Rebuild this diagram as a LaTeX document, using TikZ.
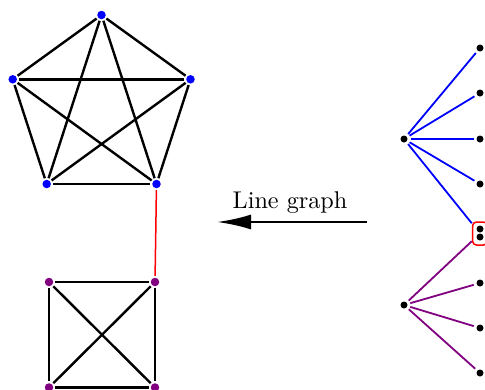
\documentclass[tikz,border=0pt]{standalone}
\usetikzlibrary{arrows.meta}
\definecolor{kblue}{RGB}{0,0,255}
\definecolor{kpurple}{RGB}{128,0,128}
\definecolor{kred}{RGB}{255,0,0}
\begin{document}
\begin{tikzpicture}[x=1pt,y=-1pt,
  bdot/.style={circle,fill=kblue,minimum size=8.5pt,inner sep=0pt,outer sep=1.8pt},
  pdot/.style={circle,fill=kpurple,minimum size=8.5pt,inner sep=0pt,outer sep=1.8pt},
  kdot/.style={circle,fill=black,minimum size=7pt,inner sep=0pt,outer sep=3pt},
  kedge/.style={line width=2.4pt,black},
  bedge/.style={line width=1.8pt,kblue},
  pedge/.style={line width=1.8pt,kpurple},
  redge/.style={line width=1.5pt,kred}]
\useasboundingbox (0,0) rectangle (485,389);
% K5
\node[bdot] (a1) at (101.5,15) {};
\node[bdot] (a2) at (12.7,79.3) {};
\node[bdot] (a3) at (190.5,79.3) {};
\node[bdot] (a4) at (46.7,184) {};
\node[bdot] (a5) at (156.5,184) {};
\foreach \u/\v in {a1/a2,a1/a3,a1/a4,a1/a5,a2/a3,a2/a4,a2/a5,a3/a4,a3/a5,a4/a5}
  \draw[kedge] (\u) -- (\v);
% K4
\node[pdot] (b1) at (49,282) {};
\node[pdot] (b2) at (155,282) {};
\node[pdot] (b3) at (49,387.5) {};
\node[pdot] (b4) at (155,387.5) {};
\foreach \u/\v in {b1/b2,b1/b3,b1/b4,b2/b3,b2/b4,b3/b4}
  \draw[kedge] (\u) -- (\v);
\draw[redge] (a5) -- (b2);
% arrow
\coordinate (as) at (367,222);
\coordinate (ae) at (217,222);
\draw[line width=2.6pt,-{Latex[length=34pt,width=15pt]}] (as) -- (ae)
  node[midway,above=5pt,xshift=-2pt,inner sep=2pt] (lg) {\scalebox{2.42}{Line graph}};
% stars
\node[kdot] (c1) at (404,139) {};
\node[kdot] (l1) at (480,48) {};
\node[kdot] (l2) at (480,93) {};
\node[kdot] (l3) at (480,139) {};
\node[kdot] (l4) at (480,184) {};
\node[kdot] (s1) at (480,229) {};
\node[kdot] (s2) at (480,237) {};
\node[draw=kred,line width=1.5pt,rounded corners=4pt,minimum width=15pt,minimum height=23pt,inner sep=0pt] (bx) at (480,233.5) {};
\node[kdot] (c2) at (404,305) {};
\node[kdot] (m2) at (480,283) {};
\node[kdot] (m3) at (480,328) {};
\node[kdot] (m4) at (480,373) {};
\foreach \v in {l1,l2,l3,l4} \draw[bedge] (c1) -- (\v);
\draw[bedge] (c1) -- (bx);
\draw[pedge] (c2) -- (bx);
\foreach \v in {m2,m3,m4} \draw[pedge] (c2) -- (\v);
\end{tikzpicture}
\end{document}
